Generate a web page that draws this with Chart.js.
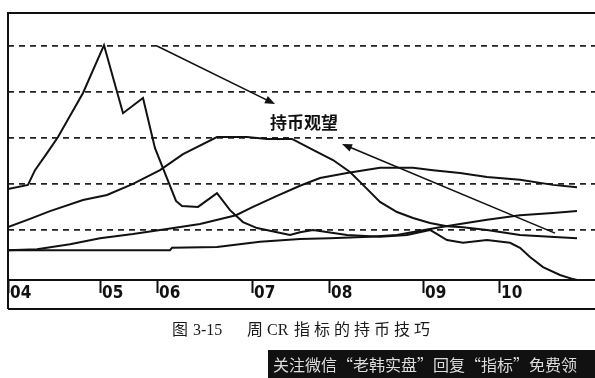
<!DOCTYPE html>
<html>
<head>
<meta charset="utf-8">
<script src="https://cdn.jsdelivr.net/npm/chart.js@4.4.1/dist/chart.umd.min.js"></script>
<style>
  html, body { margin: 0; padding: 0; background: #fff; }
  #wrap { position: relative; width: 595px; height: 378px; overflow: hidden; }
  #c { position: absolute; left: 0; top: 0; }
  .cap { position: absolute; top: 321px; font-size: 16px; line-height: 18px; color: #1a1a1a;
         font-family: "Liberation Serif", "Noto Sans CJK SC"; white-space: nowrap; }
  #wm { position: absolute; left: 268px; top: 350px; width: 322px; height: 28px; padding-left: 5px;
        background: #111; color: #ddd; font: 16px/28px "Noto Sans CJK SC"; white-space: nowrap; }
</style>
</head>
<body>
<div id="wrap">
  <canvas id="c" width="595" height="378"></canvas>
  <div class="cap" style="left:172px">图</div>
  <div class="cap" style="left:193px">3-15</div>
  <div class="cap" style="left:247px">周</div>
  <div class="cap" style="left:267px">CR</div>
  <div class="cap" style="left:294px;letter-spacing:4px">指标的持币技巧</div>
  <div id="wm">关注微信“老韩实盘”回复“指标”免费领</div>
</div>
<script>
// x axis: week index, y axis: CR value
const tickWeeks = [0, 23, 37.25, 61, 80.25, 103.75, 122.75];
const tickLabels = ['04', '05', '06', '07', '08', '09', '10'];
const gridValues = [100, 200, 300, 400, 500];

// CR line
const crWeeks = [0, 5, 6.75, 9.75, 12.5, 18.75, 24, 28.75, 33.75, 36.75, 42, 43.5, 47.5, 52.25, 55.5, 58.75,
  62.25, 67.25, 70.5, 73, 76.25, 84.75, 93, 99.75, 105.5, 109.75, 113.75, 119.75, 125.5, 128, 130.5, 133.75,
  138, 141.25, 142.25];
const crValues = [189, 198, 230, 267, 302, 398, 502, 354, 387, 278, 163, 152, 150, 180, 143, 117,
  104, 95, 89, 95, 100, 89, 85, 89, 100, 78, 72, 78, 72, 61, 41, 19,
  2, -7, -9];

// ma1 (hump)
const ma1Weeks = [0, 5.5, 10.5, 18.75, 24.75, 31.25, 38, 43.75, 52.25, 59.75, 64.75, 71, 76.25, 81.25, 85.5,
  88.75, 93, 97.25, 101.25, 105.5, 109.75, 113.75, 119.75, 128, 135.5, 142.25];
const ma1Values = [106, 124, 141, 165, 176, 200, 230, 265, 302, 302, 298, 298, 274, 252, 226,
  198, 161, 139, 126, 115, 108, 106, 100, 89, 85, 82];

// ma2 (dome)
const ma2Weeks = [0, 7.25, 15.5, 23, 31.25, 39.75, 48, 57, 61.25, 67.25, 73, 78, 84.75, 93, 101.25, 106.25,
  113, 119.75, 128, 136.25, 142.25];
const ma2Values = [56, 58, 69, 82, 91, 102, 113, 132, 150, 174, 196, 213, 224, 235, 235, 230,
  224, 215, 209, 198, 193];

// ma3 (slow rise)
const ma3Weeks = [0, 40.5, 41, 52.25, 63, 73, 80.5, 90.5, 97.25, 103, 108, 113, 119.75, 128, 136.25, 142.25];
const ma3Values = [56, 56, 61, 63, 74, 80, 82, 85, 89, 98, 106, 113, 122, 132, 137, 141];

// annotation arrows [week, value] from -> to (tip)
const arrowFrom = [[37.25, 500], [136.75, 93]];
const arrowTo = [[66.75, 374], [83.5, 287]];
const noteText = '持币观望';
const notePos = [74, 333];

const pts = (w, v) => w.map((x, i) => ({ x: x, y: v[i] }));
const lineStyle = { borderColor: '#111', borderWidth: 2, pointRadius: 0, fill: false, tension: 0 };

const frame = {
  id: 'frame',
  afterDraw(chart) {
    const { ctx, chartArea: a, scales: { x, y } } = chart;
    ctx.save();
    ctx.strokeStyle = '#111';
    ctx.lineWidth = 2;
    ctx.beginPath();
    ctx.moveTo(a.left, x.bottom); ctx.lineTo(a.left, a.top); ctx.lineTo(a.right, a.top);
    ctx.moveTo(a.left, a.bottom); ctx.lineTo(a.right, a.bottom);
    ctx.moveTo(a.left, x.bottom); ctx.lineTo(a.right, x.bottom);
    x.ticks.forEach(t => {
      const px = Math.round(x.getPixelForValue(t.value)) + 0.5;
      ctx.moveTo(px, a.bottom); ctx.lineTo(px, a.bottom + 13);
    });
    ctx.stroke();

    // arrows
    ctx.lineWidth = 1.6;
    ctx.fillStyle = '#111';
    arrowFrom.forEach((f, i) => {
      const x0 = x.getPixelForValue(f[0]), y0 = y.getPixelForValue(f[1]);
      const x1 = x.getPixelForValue(arrowTo[i][0]), y1 = y.getPixelForValue(arrowTo[i][1]);
      const ang = Math.atan2(y1 - y0, x1 - x0);
      ctx.beginPath(); ctx.moveTo(x0, y0); ctx.lineTo(x1 - 6 * Math.cos(ang), y1 - 6 * Math.sin(ang)); ctx.stroke();
      ctx.beginPath();
      ctx.moveTo(x1, y1);
      ctx.lineTo(x1 - 10 * Math.cos(ang) + 4 * Math.sin(ang), y1 - 10 * Math.sin(ang) - 4 * Math.cos(ang));
      ctx.lineTo(x1 - 10 * Math.cos(ang) - 4 * Math.sin(ang), y1 - 10 * Math.sin(ang) + 4 * Math.cos(ang));
      ctx.closePath(); ctx.fill();
    });

    ctx.font = 'bold 17px "Noto Sans CJK SC"';
    ctx.textAlign = 'center';
    ctx.textBaseline = 'middle';
    ctx.fillText(noteText, x.getPixelForValue(notePos[0]), y.getPixelForValue(notePos[1]));
    ctx.restore();
  }
};

new Chart(document.getElementById('c'), {
  type: 'line',
  data: {
    datasets: [
      Object.assign({ label: 'CR', data: pts(crWeeks, crValues) }, lineStyle),
      Object.assign({ label: 'MA1', data: pts(ma1Weeks, ma1Values) }, lineStyle),
      Object.assign({ label: 'MA2', data: pts(ma2Weeks, ma2Values) }, lineStyle),
      Object.assign({ label: 'MA3', data: pts(ma3Weeks, ma3Values) }, lineStyle)
    ]
  },
  options: {
    responsive: false,
    animation: false,
    layout: { padding: { left: 8, top: 13, right: 0, bottom: 69 } },
    plugins: { legend: { display: false }, tooltip: { enabled: false } },
    scales: {
      x: {
        type: 'linear', min: 0, max: 146.75,
        afterBuildTicks: s => { s.ticks = tickWeeks.map(v => ({ value: v })); },
        afterFit: s => { s.height = 29; },
        grid: { display: false, drawTicks: false },
        border: { display: false },
        ticks: {
          autoSkip: false, maxRotation: 0, align: 'start', labelOffset: 2, padding: 3, color: '#111',
          font: { family: 'DejaVu Sans Condensed', size: 17, weight: 'bold' },
          callback: (v, i) => tickLabels[i]
        }
      },
      y: {
        min: -9, max: 572,
        afterBuildTicks: s => { s.ticks = gridValues.map(v => ({ value: v })); },
        afterFit: s => { s.width = 0; },
        ticks: { display: false },
        grid: { color: '#222', lineWidth: 1.8, drawTicks: false },
        border: { display: false, dash: [6, 5] }
      }
    }
  },
  plugins: [frame]
});
</script>
</body>
</html>
